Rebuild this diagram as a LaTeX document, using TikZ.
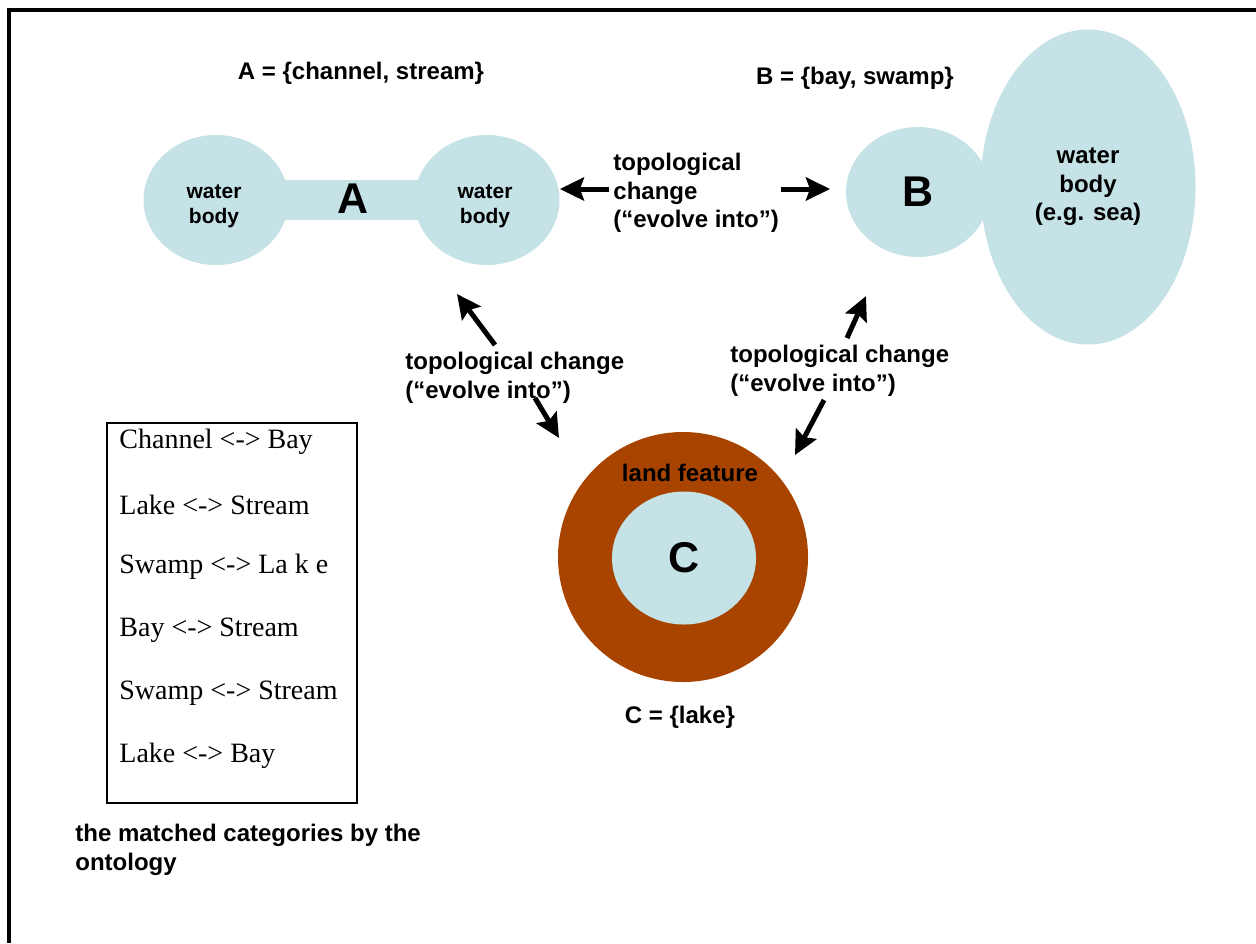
\documentclass[tikz,border=0pt]{standalone}
\usepackage{fontspec}
\setmainfont{Liberation Serif}
\setsansfont{Liberation Sans}
\usetikzlibrary{shapes.geometric, backgrounds, arrows.meta, positioning}
\definecolor{water}{RGB}{197,226,230}
\definecolor{land}{RGB}{168,68,0}

\tikzset{
  basin/.style={ellipse, fill=water, inner sep=0pt, align=center},
  lbl/.style={font=\sffamily\bfseries\fontsize{12}{14.3}\selectfont, inner sep=0pt},
  small lbl/.style={font=\sffamily\bfseries\fontsize{10.5}{12.5}\selectfont, align=center, inner sep=0pt},
  big lbl/.style={font=\sffamily\bfseries\fontsize{21.5}{24}\selectfont},
  match/.style={font=\fontsize{14}{16}\selectfont, anchor=west, inner sep=0pt},
  evolve/.style={->, line width=2.5pt},
}

\begin{document}
\begin{tikzpicture}[>={Stealth[length=12pt, width=11.5pt, inset=2pt]}, x=0.5pt, y=-0.5pt]
\useasboundingbox (0,0) rectangle (1256,943);
\draw[line width=2pt] (9,943) -- (9,10) -- (1256,10);
%
\node[basin, minimum width=72.5pt, minimum height=65pt] (wb left) at (216,200) {};
\node[basin, minimum width=72.5pt, minimum height=65pt] (wb right) at (487,200) {};
\begin{pgfonlayer}{background}
\draw[water, line width=20pt] (wb left.center) -- (wb right.center);
\end{pgfonlayer}
\node[small lbl] (wb left text) at (214,206) {water\\body};
\node[small lbl] (wb right text) at (485,206) {water\\body};
\node[big lbl] (A) at (353,199) {A};
\node[lbl] (A set) at (361,73) {A = \{channel, stream\}};
%
\node[basin, lbl, minimum width=107.5pt, minimum height=157.5pt] (sea) at (1088,187) {water\\body\\(e.g. sea)};
\node[basin, big lbl, minimum width=72pt, minimum height=65pt] (B) at (918,192) {B};
\node[lbl] (B set) at (855,78) {B = \{bay, swamp\}};
%
\node[circle, fill=land, minimum size=125pt, inner sep=0pt] (land) at (683,557) {};
\node[basin, big lbl, minimum width=72pt, minimum height=66.5pt] (C) at (684,558) {C};
\node[lbl] (land label) at (690,473) {land feature};
\node[lbl] (C set) at (680,717) {C = \{lake\}};
%
\node[lbl, align=left, anchor=west] (change AB) at (613,193) {topological\\change\\(“evolve into”)};
\coordinate (ab tail) at (609,189);
\coordinate (ba tail) at (781,189);
\coordinate (ba tip) at (830,189);
\draw[evolve] (ab tail) -- (wb right.east |- ab tail);
\draw[evolve] (ba tail) -- (ba tip);
%
\node[lbl, align=left, anchor=west] (change AC) at (405,378) {topological change\\(“evolve into”)};
\coordinate (ac top tail) at (495,345);
\coordinate (ac top tip) at (457,294);
\coordinate (ac low tail) at (535,398);
\coordinate (ac low tip) at (559,438);
\draw[evolve] (ac top tail) -- (ac top tip);
\draw[evolve] (ac low tail) -- (ac low tip);
%
\node[lbl, align=left, anchor=west] (change BC) at (730,371) {topological change\\(“evolve into”)};
\coordinate (bc top tail) at (847,338);
\coordinate (bc top tip) at (866,296);
\coordinate (bc low tail) at (824,400);
\coordinate (bc low tip) at (795,455);
\draw[evolve] (bc top tail) -- (bc top tip);
\draw[evolve] (bc low tail) -- (bc low tip);
%
\node[draw, line width=1pt, minimum width=125pt, minimum height=190pt] (match box) at (232,613) {};
\node[match] (m1) at (119,442) {Channel <-> Bay};
\node[match] (m2) at (119,505) {Lake <-> Stream};
\node[match] (m3) at (119,567) {Swamp <-> La k e};
\node[match] (m4) at (119,630) {Bay <-> Stream};
\node[match] (m5) at (119,693) {Swamp <-> Stream};
\node[match] (m6) at (119,756) {Lake <-> Bay};
\node[lbl, align=left, anchor=west] (caption) at (75,850) {the matched categories by the\\ontology};
\end{tikzpicture}
\end{document}
